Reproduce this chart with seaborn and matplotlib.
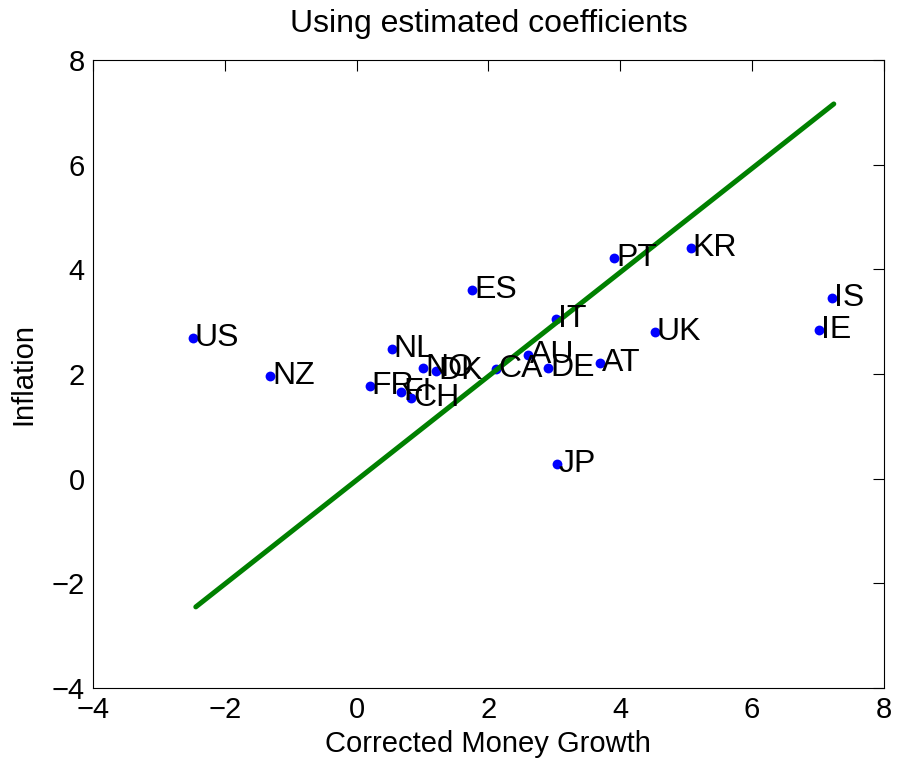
import pandas as pd
import matplotlib
matplotlib.use("Agg")
import matplotlib.pyplot as plt
import seaborn as sns

# country codes and values
countries = ['US', 'NZ', 'FR', 'FI', 'CH', 'NL', 'NO', 'DK', 'ES', 'CA', 'AU', 'DE',
             'IT', 'JP', 'AT', 'PT', 'UK', 'KR', 'IE', 'IS']
money_growth = [-2.49, -1.31, 0.20, 0.68, 0.83, 0.53, 1.01, 1.21, 1.75, 2.12, 2.60, 2.91,
                3.03, 3.04, 3.69, 3.91, 4.52, 5.07, 7.02, 7.22]
inflation = [2.68, 1.96, 1.77, 1.66, 1.55, 2.47, 2.11, 2.05, 3.61, 2.10, 2.36, 2.12,
             3.05, 0.28, 2.21, 4.21, 2.81, 4.40, 2.84, 3.46]

# fitted line
fit_x = [-2.44, 7.24]
fit_y = [-2.45, 7.16]

ticks = [-4, -2, 0, 2, 4, 6, 8]

df = pd.DataFrame({'country': countries, 'growth': money_growth, 'inflation': inflation})
fit = pd.DataFrame({'x': fit_x, 'y': fit_y})

sns.set_style("white")
plt.rcParams['font.family'] = ['Liberation Sans', 'DejaVu Sans']
plt.rcParams['text.color'] = 'black'
plt.rcParams['axes.labelcolor'] = 'black'
plt.rcParams['xtick.color'] = 'black'
plt.rcParams['ytick.color'] = 'black'
plt.rcParams['xtick.direction'] = 'in'
plt.rcParams['ytick.direction'] = 'in'

fig = plt.figure(figsize=(9.01, 7.66), dpi=100)
ax = fig.add_axes([0.1032, 0.1018, 0.8778, 0.8199])

sns.lineplot(data=fit, x='x', y='y', color=(0, 0.5, 0), linewidth=3.6, ax=ax, zorder=3)
sns.scatterplot(data=df, x='growth', y='inflation', color='blue', s=50,
                edgecolor='blue', linewidth=0, ax=ax, zorder=2)
for _, r in df.iterrows():
    ax.text(r['growth'] + 0.03, r['inflation'], r['country'], fontsize=23,
            ha='left', va='center', zorder=4)

ax.set_xlim(-4, 8)
ax.set_ylim(-4, 8)
ax.set_xticks(ticks)
ax.set_yticks(ticks)
ax.tick_params(labelsize=21, length=8, width=0.8, pad=6, top=True, right=True)
for s in ax.spines.values():
    s.set_color('black')
    s.set_linewidth(0.8)
ax.set_xlabel('Corrected Money Growth', fontsize=21, labelpad=4)
ax.set_ylabel('Inflation', fontsize=21, labelpad=10)
ax.set_title('Using estimated coefficients', fontsize=23, pad=20)

fig.savefig('out.png', dpi=100)
